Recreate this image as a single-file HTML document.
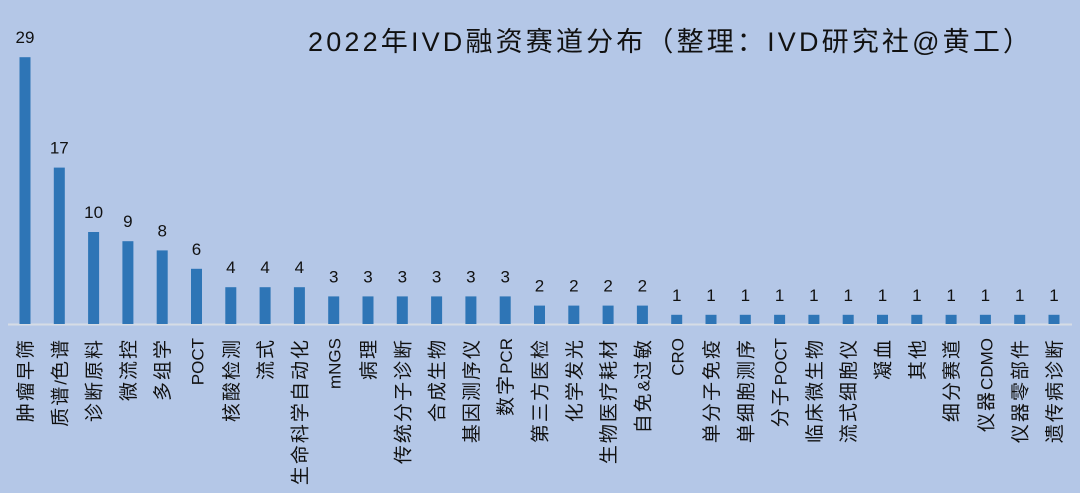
<!DOCTYPE html>
<html><head><meta charset="utf-8"><style>
html,body{margin:0;padding:0;background:#b4c7e7;}
svg{display:block;font-family:"Liberation Sans","Noto Sans CJK SC",sans-serif;}
.c{letter-spacing:2px;font-size:19px;}
.l{font-size:17px;}
</style></head><body>
<svg id="c" width="1080" height="493" xmlns="http://www.w3.org/2000/svg">
<rect width="1080" height="493" fill="#b4c7e7"/>
<text x="308" y="51" font-size="27" textLength="722" lengthAdjust="spacing" fill="#111">2022年IVD融资赛道分布（整理：IVD研究社@黄工）</text>
<line x1="8" y1="324.5" x2="1072" y2="324.5" stroke="#d6dce5" stroke-width="2"/>
<g id="g"></g>
</svg>
<script>
var d=[["肿瘤早筛",29],["质谱/色谱",17],["诊断原料",10],["微流控",9],["多组学",8],["POCT",6],["核酸检测",4],["流式",4],["生命科学自动化",4],["mNGS",3],["病理",3],["传统分子诊断",3],["合成生物",3],["基因测序仪",3],["数字PCR",3],["第三方医检",2],["化学发光",2],["生物医疗耗材",2],["自免&过敏",2],["CRO",1],["单分子免疫",1],["单细胞测序",1],["分子POCT",1],["临床微生物",1],["流式细胞仪",1],["凝血",1],["其他",1],["细分赛道",1],["仪器CDMO",1],["仪器零部件",1],["遗传病诊断",1]];
function lab(t){var o="";for(var i=0;i<t.length;i++){var ch=t[i];var esc=ch=="&"?"&amp;":ch;
if(/[\u3000-\u9fff\uff00-\uffef]/.test(ch))o+='<tspan class="c">'+esc+'</tspan>';else o+='<tspan class="l">'+esc+'</tspan>';}return o;}
var s="";
d.forEach(function(e,i){
var cx=25+i*34.3,h=e[1]*9.2,y=324-h;
s+='<rect x="'+(cx-5.5)+'" y="'+y+'" width="11" height="'+h+'" fill="#2e75b6"/>';
s+='<text x="'+cx+'" y="'+(y-14)+'" font-size="17" text-anchor="middle" fill="#111">'+e[1]+'</text>';
s+='<text transform="translate('+(cx+7)+',338) rotate(-90)" text-anchor="end" fill="#111">'+lab(e[0])+'</text>';
});
document.getElementById("g").innerHTML=s;
</script>
</body></html>
